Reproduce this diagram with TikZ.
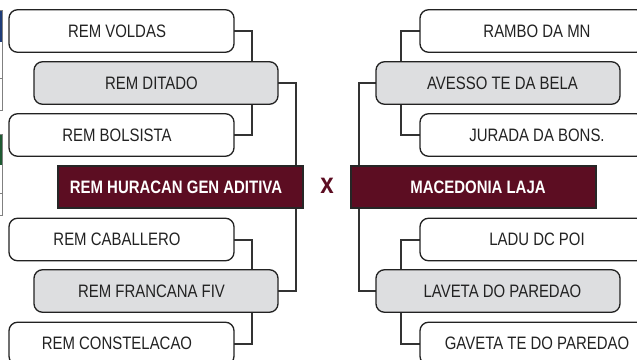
\documentclass[tikz,border=0pt]{standalone}
\usepackage{fontspec}
\setmainfont{Liberation Sans}[FakeStretch=0.83]
\usetikzlibrary{backgrounds}
\definecolor{maroon}{RGB}{92,13,34}
\definecolor{boxgray}{RGB}{221,222,224}
\definecolor{ink}{RGB}{34,34,34}
\definecolor{linegray}{RGB}{51,51,51}
\definecolor{edgeblue}{RGB}{30,60,120}
\definecolor{edgegreen}{RGB}{30,90,50}
\tikzset{
  teambox/.style={draw=ink, line width=1.3pt, rounded corners=8.5pt, minimum height=42.5pt,
    inner sep=0pt, outer sep=0pt, text=ink, font=\fontsize{18}{21}\selectfont},
  whitebox/.style={teambox, fill=white, minimum width=225pt},
  graybox/.style={teambox, fill=boxgray, minimum width=244pt},
  finalbox/.style={draw=black!85, line width=1.3pt, fill=maroon, minimum width=245pt,
    minimum height=42pt, inner sep=0pt, outer sep=0pt, text=white,
    font=\fontsize{18}{21}\selectfont\bfseries},
  link/.style={draw=linegray, line width=2pt},
  edgeline/.style={draw=gray, line width=0.8pt}
}
\newcommand{\lt}[1]{#1\kern9pt}
\newcommand{\rt}[1]{\kern9pt#1}
\begin{document}
\begin{tikzpicture}[x=1pt,y=-1pt]
\useasboundingbox (0,0) rectangle (637,359);
\clip (0,0) rectangle (637,359);
% left edge fragments
\fill[edgeblue] (0,10) rectangle (2.5,42);
\draw[edgeline] (-1,10) -- (2,10) -- (2,110) -- (-1,110);
\draw[edgeline] (-1,78) -- (2,78);
\fill[edgegreen] (0,134) rectangle (2.5,165);
\draw[edgeline] (-1,134) -- (2,134) -- (2,215) -- (-1,215);
\draw[edgeline] (-1,193) -- (2,193);
% left bracket
\node[whitebox] (lv) at (121.5,31) {\lt{REM VOLDAS}};
\node[graybox]  (ld) at (156,83) {\lt{REM DITADO}};
\node[whitebox] (lb) at (121.5,135) {\lt{REM BOLSISTA}};
\node[finalbox] (lh) at (180.5,187) {\lt{REM HURACAN GEN ADITIVA}};
\node[whitebox] (lc) at (121.5,239.5) {\lt{REM CABALLERO}};
\node[graybox]  (lf) at (156,291) {\lt{REM FRANCANA FIV}};
\node[whitebox] (lk) at (121.5,343.5) {\lt{REM CONSTELACAO}};
% right bracket
\node[whitebox] (rr) at (532.5,31) {\rt{RAMBO DA MN}};
\node[graybox]  (ra) at (498,83) {\rt{AVESSO TE DA BELA}};
\node[whitebox] (rj) at (532.5,135) {\rt{JURADA DA BONS.}};
\node[finalbox] (rm) at (473.5,187) {\rt{MACEDONIA LAJA}};
\node[whitebox] (rl) at (532.5,239.5) {\rt{LADU DC POI}};
\node[graybox]  (rv) at (498,291) {\rt{LAVETA DO PAREDAO}};
\node[whitebox] (rg) at (532.5,343.5) {\rt{GAVETA TE DO PAREDAO}};
% versus
\node[text=maroon, font=\fontsize{29}{31}\selectfont\bfseries, inner sep=0pt] (vs) at (327,186) {x};
% connectors
\begin{scope}[on background layer]
\draw[link] (lv.east) -- ++(18,0) |- (lb.east);
\draw[link] (ld.east) -- ++(18,0) |- (lf.east);
\draw[link] (lc.east) -- ++(18,0) |- (lk.east);
\draw[link] (rr.west) -- ++(-19,0) |- (rj.west);
\draw[link] (ra.west) -- ++(-17,0) |- (rv.west);
\draw[link] (rl.west) -- ++(-19,0) |- (rg.west);
\end{scope}
\end{tikzpicture}
\end{document}
